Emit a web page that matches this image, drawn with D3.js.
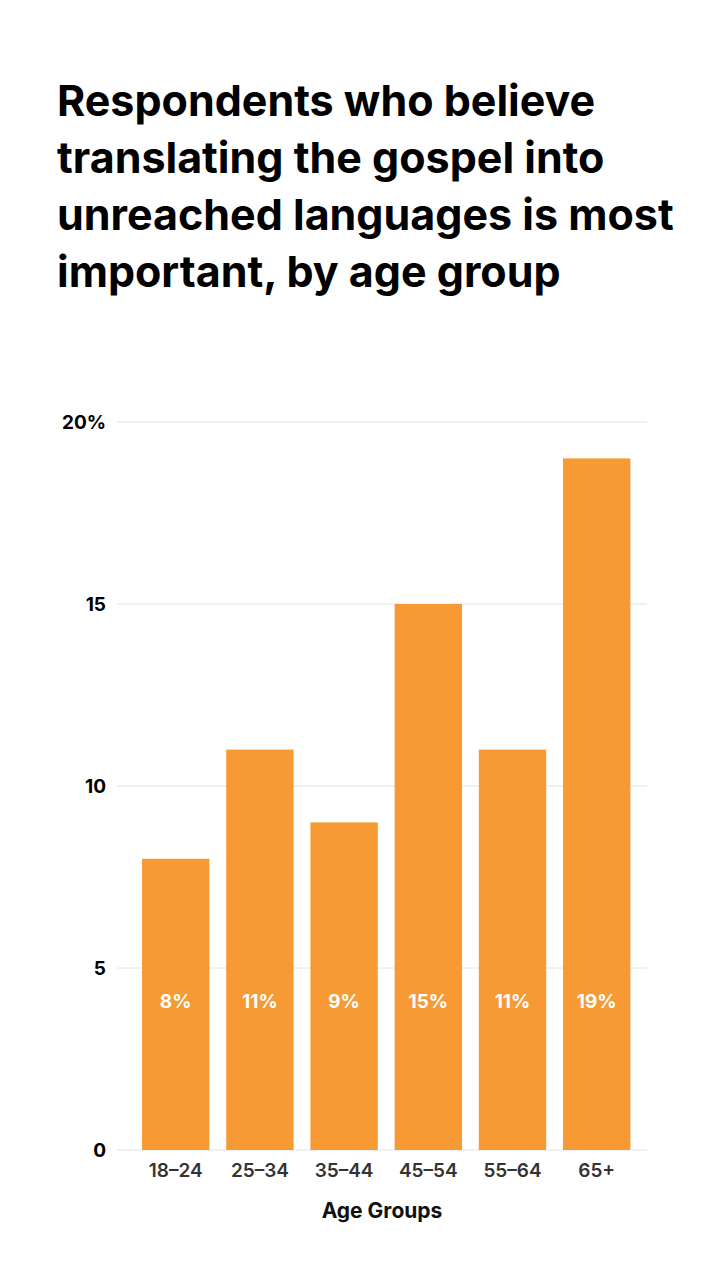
<!DOCTYPE html>
<html><head><meta charset="utf-8">
<script src="https://cdn.jsdelivr.net/npm/d3@7"></script>
<style>
html,body{margin:0;padding:0;background:#fff;}
svg{display:block;}
</style></head>
<body>
<script>
const titleLines = ["Respondents who believe","translating the gospel into","unreached languages is most","important, by age group"];
const categories = ["18–24","25–34","35–44","45–54","55–64","65+"];
const values = [8, 11, 9, 15, 11, 19];
const yTicks = [0, 5, 10, 15, 20];
const xTitle = "Age Groups";

const W = 719, H = 1280;
const svg = d3.select("body").append("svg").attr("width", W).attr("height", H);
const font = "Inter, 'Noto Sans', sans-serif";

svg.append("g").selectAll("text").data(titleLines).join("text")
  .attr("x", 57).attr("y", (d,i) => 116 + i*57)
  .attr("font-family", font).attr("font-weight", 700).attr("font-size", 43)
  .attr("fill", "#000").text(d => d);

const y = d3.scaleLinear().domain([0, 20]).range([1150, 422]);
const x = d3.scaleBand().domain(categories).range([133.6, 638.8]).paddingInner(0.2).paddingOuter(0.1);

const grid = svg.append("g");
grid.selectAll("line").data(yTicks).join("line")
  .attr("x1", 117).attr("x2", 647)
  .attr("y1", d => y(d)).attr("y2", d => y(d))
  .attr("stroke", "#e4e4e4").attr("stroke-width", 1);

const yAxis = d3.axisLeft(y).tickValues(yTicks).tickSize(0).tickPadding(0)
  .tickFormat(d => d === 20 ? "20%" : d);
const ya = svg.append("g").attr("transform", "translate(106,0)").call(yAxis);
ya.select(".domain").remove();
ya.selectAll("text").attr("font-family", font).attr("font-weight", 700).attr("font-size", 19).attr("fill", "#000").attr("dy", "0.35em");

svg.append("g").selectAll("rect").data(values).join("rect")
  .attr("x", (d,i) => x(categories[i])).attr("width", x.bandwidth())
  .attr("y", d => y(d)).attr("height", d => y(0) - y(d))
  .attr("fill", "#F79A33");

svg.append("g").selectAll("text").data(values).join("text")
  .attr("x", (d,i) => x(categories[i]) + x.bandwidth()/2).attr("y", 1008)
  .attr("text-anchor", "middle").attr("font-family", font).attr("font-weight", 700).attr("font-size", 19)
  .attr("fill", "#fff").text(d => d + "%");

const xAxis = d3.axisBottom(x).tickSize(0).tickPadding(0);
const xa = svg.append("g").attr("transform", "translate(0,1150)").call(xAxis);
xa.select(".domain").remove();
xa.selectAll("text").attr("font-family", font).attr("font-weight", 600).attr("font-size", 19).attr("fill", "#333").attr("dy", "0").attr("y", 27);

svg.append("text").attr("x", 382).attr("y", 1218).attr("text-anchor", "middle")
  .attr("font-family", font).attr("font-weight", 700).attr("font-size", 21).attr("fill", "#111").text(xTitle);
</script>
</body></html>
